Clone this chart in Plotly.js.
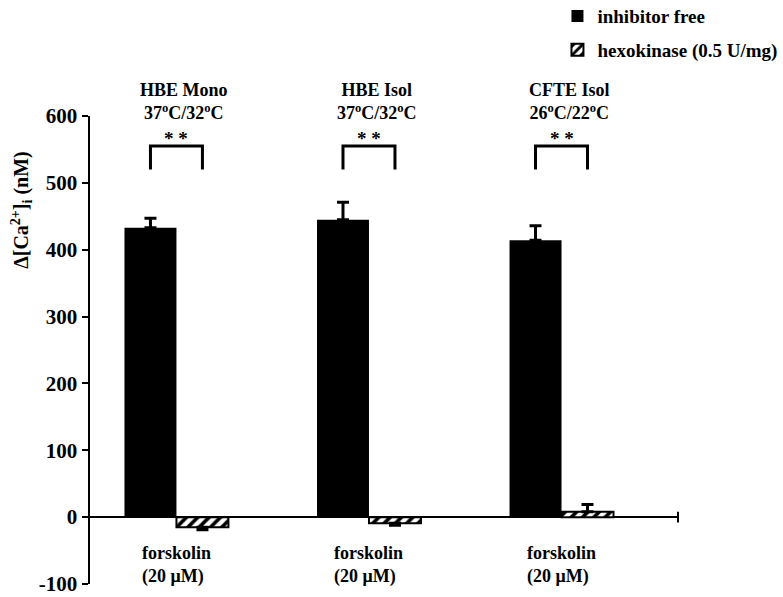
<!DOCTYPE html>
<html>
<head>
<meta charset="utf-8">
<script src="https://cdn.plot.ly/plotly-3.0.1.min.js"></script>
<style>html,body{margin:0;padding:0;background:#fff;}#chart{width:783px;height:597px;}</style>
</head>
<body>
<div id="chart"></div>
<script>
// ---- data ----
const groups = ['HBE Mono', 'HBE Isol', 'CFTE Isol'];
const temps = ['37<sup>o</sup>C/32<sup>o</sup>C', '37<sup>o</sup>C/32<sup>o</sup>C', '26<sup>o</sup>C/22<sup>o</sup>C'];
const stimulus = ['forskolin<br>(20 μM)', 'forskolin<br>(20 μM)', 'forskolin<br>(20 μM)'];
const inhibitorFree = [433, 445, 414];
const inhibitorFreeErr = [14, 26, 22];
const hexokinase = [-15, -9, 8];
const hexokinaseErrUp = [0, 0, 11];
const hexokinaseErrDown = [4, 3, 0];
const significance = ['* *', '* *', '* *'];
const yTicks = [-100, 0, 100, 200, 300, 400, 500, 600];
const yTickText = ['-100', '0', '100', '200', '300', '400', '500', '600'];

const FONT = 'Liberation Serif, Times New Roman, serif';
const halfShift = 0.135; // half of a bar slot within a group

const traces = [
  {
    type: 'bar', name: 'inhibitor free', x: groups, y: inhibitorFree,
    marker: {color: '#000', line: {width: 0}},
    error_y: {type: 'data', array: inhibitorFreeErr, arrayminus: inhibitorFree.map(() => 0),
              color: '#000', thickness: 3, width: 6},
    legendgroup: 'a'
  },
  {
    type: 'bar', name: 'hexokinase (0.5 U/mg)', x: groups, y: hexokinase,
    marker: {color: '#fff', line: {color: '#000', width: 2},
             pattern: {shape: '/', fgcolor: '#000', bgcolor: '#fff', size: 8, solidity: 0.45}},
    error_y: {type: 'data', array: hexokinaseErrUp, arrayminus: hexokinaseErrDown,
              color: '#000', thickness: 3, width: 6},
    legendgroup: 'b'
  }
];

const annotations = [];
const shapes = [];
groups.forEach((g, i) => {
  annotations.push({
    xref: 'x', yref: 'paper', x: i + 0.04, y: 1.031, yanchor: 'middle', xanchor: 'center',
    text: '<b>' + g + '<br>' + temps[i] + '</b>',
    showarrow: false, font: {family: FONT, size: 18, color: '#000'}, align: 'center'
  });
  annotations.push({
    xref: 'x', yref: 'y', x: i, y: 566, text: '<b>' + significance[i] + '</b>',
    showarrow: false, font: {family: FONT, size: 19, color: '#000'}
  });
  annotations.push({
    xref: 'x', yref: 'y', x: i - 0.19, xanchor: 'left', y: -72, text: '<b>' + stimulus[i] + '</b>',
    showarrow: false, font: {family: FONT, size: 18, color: '#000'}, align: 'left'
  });
  shapes.push({
    type: 'path', xref: 'x', yref: 'y',
    path: `M ${i - halfShift} 520 L ${i - halfShift} 555 L ${i + halfShift} 555 L ${i + halfShift} 520`,
    line: {color: '#000', width: 3}
  });
});

annotations.push({
  xref: 'paper', yref: 'y', x: -0.117, y: 460, xanchor: 'center', yanchor: 'middle', textangle: -90,
  text: '<b>Δ[Ca<sup>2+</sup>]<sub>i</sub> (nM)</b>', showarrow: false,
  font: {family: FONT, size: 20, color: '#000'}
});

// small end tick on the x axis
shapes.push({type: 'line', xref: 'paper', yref: 'y', x0: 1, x1: 1, y0: -8, y1: 8,
             line: {color: '#000', width: 2}});

const layout = {
  width: 783, height: 597,
  margin: {l: 90, r: 105, t: 116, b: 13, autoexpand: false},
  paper_bgcolor: '#fff', plot_bgcolor: '#fff',
  barmode: 'group', bargap: 0.46, bargroupgap: 0,
  showlegend: true,
  legend: {x: 0.795, xanchor: 'left', y: 1.254, yanchor: 'top', bgcolor: 'rgba(0,0,0,0)',
           font: {family: FONT, size: 19, color: '#000', weight: 'bold'}, tracegroupgap: 6,
           itemwidth: 30},
  xaxis: {range: [-0.449, 2.605], showticklabels: false, ticks: '', showline: false,
          showgrid: false, zeroline: false, fixedrange: true},
  yaxis: {range: [-100, 600], tickvals: yTicks, ticktext: yTickText, ticks: 'outside', ticklen: 6, tickwidth: 2,
          tickcolor: '#000', showline: true, linecolor: '#000', linewidth: 2.5, showgrid: false,
          zeroline: true, zerolinecolor: '#000', zerolinewidth: 2.5,
          tickfont: {family: FONT, size: 21, color: '#000', weight: 'bold'}},
  annotations: annotations,
  shapes: shapes,
  font: {family: FONT, color: '#000'}
};

Plotly.newPlot('chart', traces, layout, {displayModeBar: false, staticPlot: true});
</script>
</body>
</html>
